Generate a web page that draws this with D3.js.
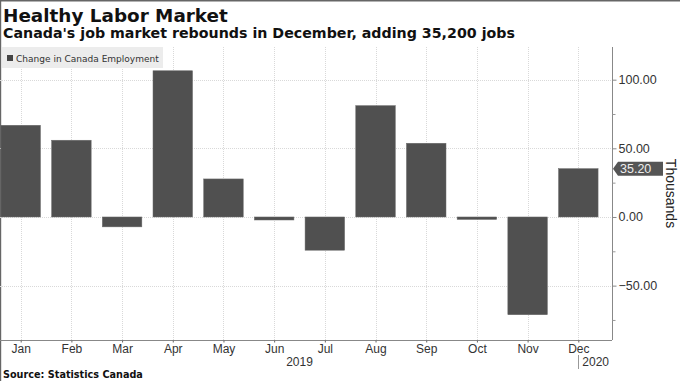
<!DOCTYPE html>
<html><head><meta charset="utf-8">
<script src="https://cdn.jsdelivr.net/npm/d3@7"></script>
<style>html,body{margin:0;padding:0;background:#fff;}svg{display:block;}</style>
</head><body><svg id="c" width="680" height="381"></svg>
<script>
const months = ["Jan","Feb","Mar","Apr","May","Jun","Jul","Aug","Sep","Oct","Nov","Dec"];
const values = [66.8, 55.9, -7.2, 106.5, 27.7, -2.2, -24.2, 81.1, 53.7, -1.8, -71.2, 35.2];
const majorTicks = [-50, 0, 50, 100];
const minorTicks = [-75, -25, 25, 75];
const years = ["2019", "2020"];
const seriesName = "Change in Canada Employment";
const lastLabel = "35.20";

const svg = d3.select("#c");
const W = 680, H = 381;
const plotL = 0, plotR = 612, plotT = 47, plotB = 340;

const x = d3.scalePoint().domain(months).range([20.7, 578.3]);
const y = d3.scaleLinear().domain([-89.6, 123.8]).range([plotB, plotT]);
const barW = x.step() * 0.78;

function fit(sel, w) {
  const cur = sel.node().getComputedTextLength();
  const fs = parseFloat(sel.attr("font-size"));
  sel.attr("font-size", (fs * w / cur).toFixed(2));
}

svg.append("rect").attr("width", W).attr("height", H).attr("fill", "#fff");
// frame
svg.append("rect").attr("x", 0).attr("y", 0).attr("width", W).attr("height", 1.5).attr("fill", "#666");
svg.append("rect").attr("x", 0).attr("y", 0).attr("width", 1.2).attr("height", H).attr("fill", "#666");

// title
const t1 = svg.append("text").attr("x", 3).attr("y", 21.5).attr("font-family", "DejaVu Sans").attr("font-weight", "bold").attr("font-size", 20).attr("fill", "#111").text("Healthy Labor Market");
fit(t1, 225);
const t2 = svg.append("text").attr("x", 3).attr("y", 38).attr("font-family", "DejaVu Sans").attr("font-weight", "bold").attr("font-size", 14).attr("fill", "#111").text("Canada's job market rebounds in December, adding 35,200 jobs");
fit(t2, 512);

// gridlines
const grid = svg.append("g").attr("stroke", "#d9d9d9").attr("stroke-width", 1).attr("stroke-dasharray", "1,1");
grid.selectAll("line.v").data(months).join("line").attr("class", "v")
  .attr("x1", d => Math.round(x(d)) + 0.5).attr("x2", d => Math.round(x(d)) + 0.5)
  .attr("y1", plotT).attr("y2", plotB);
grid.selectAll("line.h").data(majorTicks).join("line").attr("class", "h")
  .attr("x1", plotL).attr("x2", plotR)
  .attr("y1", d => Math.round(y(d)) + 0.5).attr("y2", d => Math.round(y(d)) + 0.5);

// bars
svg.append("g").selectAll("rect").data(values).join("rect")
  .attr("x", (d, i) => x(months[i]) - barW / 2)
  .attr("width", barW)
  .attr("y", d => y(Math.max(0, d)))
  .attr("height", d => Math.max(1.5, Math.abs(y(d) - y(0))))
  .attr("fill", "#505050")
  .attr("stroke", "#6a6a6a").attr("stroke-width", 0.5);

// legend
svg.append("rect").attr("x", 2).attr("y", 47).attr("width", 161).attr("height", 21).attr("fill", "#ececec");
svg.append("rect").attr("x", 7).attr("y", 55).attr("width", 6).attr("height", 6).attr("fill", "#444");
const lg = svg.append("text").attr("x", 16).attr("y", 62).attr("font-family", "DejaVu Sans").attr("font-size", 10).attr("fill", "#333").text(seriesName);
fit(lg, 143);

// right axis
const yAxis = d3.axisRight(y).tickValues(majorTicks).tickFormat(d3.format(".2f")).tickSize(4).tickPadding(2);
const ya = svg.append("g").attr("transform", `translate(${plotR + 0.5},0)`).call(yAxis);
ya.select(".domain").attr("stroke", "#888").attr("d", `M0,${plotT}V${plotB}`);
ya.selectAll(".tick line").attr("stroke", "#888");
ya.selectAll(".tick text").attr("font-family", "Liberation Sans").attr("font-size", 12.5).attr("fill", "#333");
const yMinor = d3.axisRight(y).tickValues(minorTicks).tickFormat("").tickSize(3);
const ym = svg.append("g").attr("transform", `translate(${plotR + 0.5},0)`).call(yMinor);
ym.select(".domain").remove();
ym.selectAll(".tick line").attr("stroke", "#999");

// bottom axis
const xAxis = d3.axisBottom(x).tickSize(2).tickPadding(2);
const xa = svg.append("g").attr("transform", `translate(0,${plotB + 0.5})`).call(xAxis);
xa.select(".domain").attr("stroke", "#888").attr("d", `M0,0H${plotR}`);
xa.selectAll(".tick line").attr("stroke", "#666");
xa.selectAll(".tick text").attr("font-family", "Liberation Sans").attr("font-size", 12).attr("fill", "#333");

// year labels
svg.append("text").attr("x", (x(months[0]) + x(months[11])) / 2).attr("y", 366).attr("text-anchor", "middle")
  .attr("font-family", "Liberation Sans").attr("font-size", 12).attr("fill", "#333").text(years[0]);
svg.append("line").attr("x1", Math.round(x(months[11])) + 0.5).attr("x2", Math.round(x(months[11])) + 0.5)
  .attr("y1", 355).attr("y2", 369).attr("stroke", "#999");
svg.append("text").attr("x", x(months[11]) + 4).attr("y", 366)
  .attr("font-family", "Liberation Sans").attr("font-size", 12).attr("fill", "#333").text(years[1]);

// last value label
const ly = y(values[values.length - 1]);
svg.append("path")
  .attr("d", `M${plotR + 1},${ly} L${plotR + 6},${ly - 7} H${plotR + 51} V${ly + 7} H${plotR + 6} Z`)
  .attr("fill", "#555");
svg.append("text").attr("x", plotR + 8).attr("y", ly + 4.5)
  .attr("font-family", "Liberation Sans").attr("font-size", 12.5).attr("fill", "#eee").text(lastLabel);

// axis title
svg.append("text").attr("transform", `translate(666,${(plotT + plotB) / 2}) rotate(90)`)
  .attr("text-anchor", "middle").attr("font-family", "Liberation Sans").attr("font-size", 14).attr("fill", "#222").text("Thousands");

// source
const src = svg.append("text").attr("x", 3).attr("y", 378).attr("font-family", "DejaVu Sans").attr("font-weight", "bold").attr("font-size", 11).attr("fill", "#111").text("Source: Statistics Canada");
fit(src, 140);
</script></body></html>
